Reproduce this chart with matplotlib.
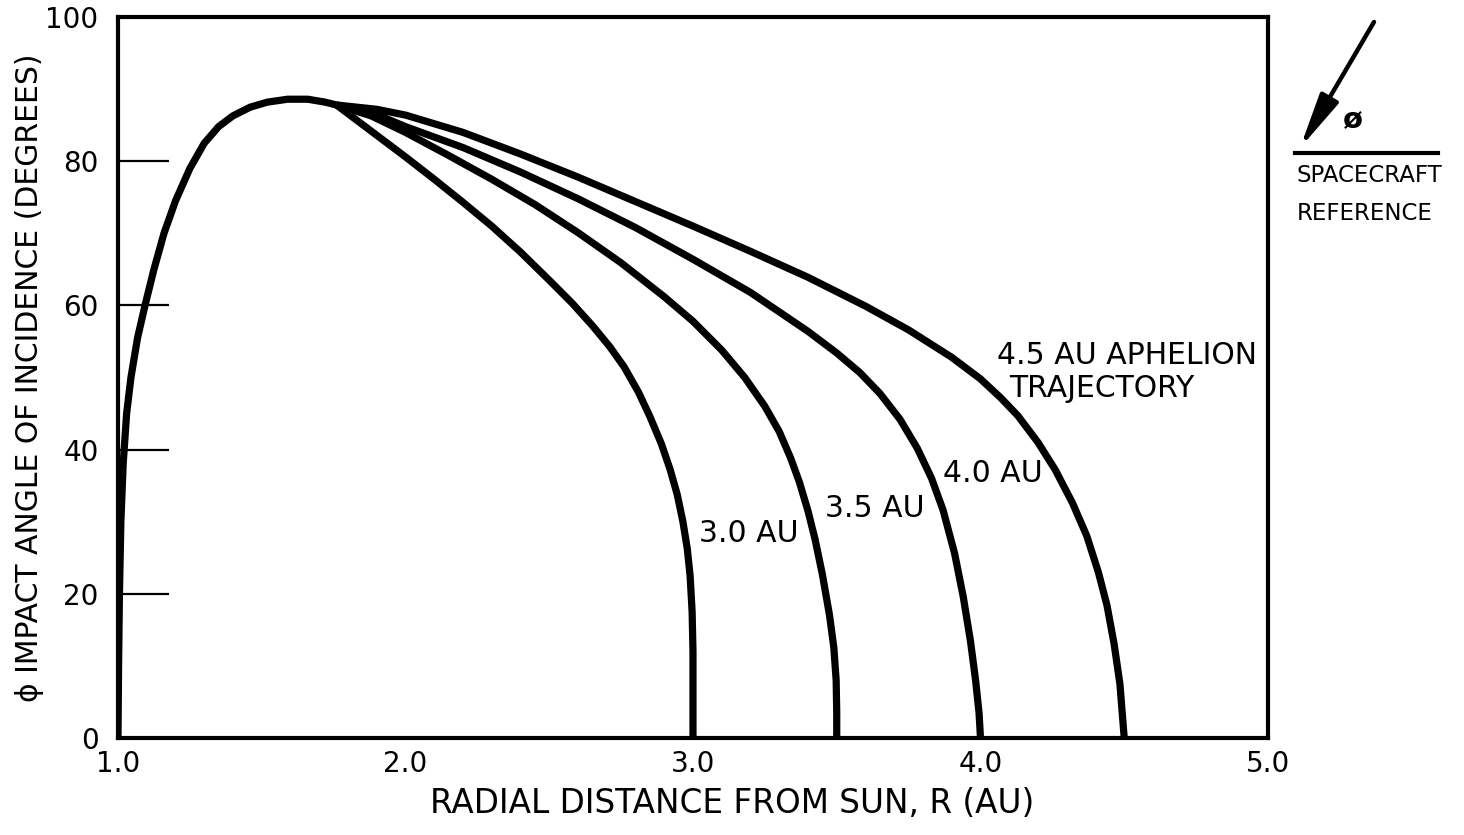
import matplotlib.pyplot as plt

# Inbound leg shared by every trajectory (R in AU, phi in degrees)
r_common = [1.000, 1.002, 1.005, 1.010, 1.018, 1.030, 1.045, 1.068, 1.094, 1.125,
            1.160, 1.200, 1.250, 1.300, 1.350, 1.400, 1.460, 1.520, 1.590, 1.660,
            1.720, 1.760]
phi_common = [0.0, 10.0, 20.0, 30.0, 38.0, 45.0, 50.0, 55.5, 60.0, 65.0,
              70.0, 74.5, 79.0, 82.5, 84.8, 86.3, 87.5, 88.2, 88.6, 88.6,
              88.2, 87.8]

# Outbound legs, one per aphelion distance
r_30 = [1.760, 1.820, 1.900, 2.000, 2.100, 2.200, 2.300, 2.400, 2.500, 2.580,
        2.650, 2.710, 2.760, 2.810, 2.850, 2.890, 2.920, 2.945, 2.965, 2.980,
        2.990, 2.997, 3.000, 3.000]
phi_30 = [87.8, 86.0, 83.6, 80.6, 77.5, 74.3, 71.0, 67.4, 63.5, 60.3,
          57.2, 54.3, 51.5, 48.0, 44.6, 40.8, 37.3, 33.8, 30.0, 26.3,
          22.5, 17.5, 12.0, 0.0]

r_35 = [1.760, 1.880, 2.000, 2.150, 2.300, 2.450, 2.600, 2.750, 2.900, 3.000,
        3.100, 3.180, 3.250, 3.300, 3.340, 3.370, 3.400, 3.425, 3.450, 3.475,
        3.490, 3.498, 3.500, 3.500]
phi_35 = [87.8, 86.3, 84.0, 80.8, 77.5, 74.0, 70.1, 65.9, 61.2, 57.8,
          53.8, 50.0, 46.0, 42.5, 38.8, 35.5, 31.5, 27.5, 22.7, 17.0,
          12.5, 8.0, 3.5, 0.0]

r_40 = [1.760, 1.880, 2.000, 2.200, 2.400, 2.600, 2.800, 3.000, 3.200, 3.400,
        3.500, 3.580, 3.650, 3.720, 3.780, 3.830, 3.870, 3.910, 3.940, 3.965,
        3.983, 3.995, 4.000]
phi_40 = [87.8, 86.8, 84.8, 81.9, 78.5, 74.8, 70.8, 66.4, 61.8, 56.4,
          53.4, 50.7, 47.8, 44.2, 40.2, 36.0, 31.6, 25.6, 19.6, 13.5,
          8.0, 3.5, 0.0]

r_45 = [1.760, 1.900, 2.000, 2.200, 2.400, 2.600, 2.800, 3.000, 3.200, 3.400,
        3.600, 3.750, 3.900, 4.000, 4.070, 4.130, 4.200, 4.260, 4.320, 4.370,
        4.410, 4.440, 4.465, 4.485, 4.500]
phi_45 = [87.8, 87.2, 86.4, 84.0, 81.0, 77.8, 74.4, 71.0, 67.5, 63.9,
          59.9, 56.6, 52.8, 49.8, 47.2, 44.7, 41.0, 37.2, 32.6, 28.0,
          23.0, 18.4, 13.0, 7.5, 0.0]

x_ticks = [1.0, 2.0, 3.0, 4.0, 5.0]
x_ticklabels = ["1.0", "2.0", "3.0", "4.0", "5.0"]
y_ticks = [0, 20, 40, 60, 80, 100]

plt.rcParams['font.family'] = ['DejaVu Sans']

fig = plt.figure(figsize=(14.64, 8.35), dpi=100)
ax = fig.add_axes([0.0806, 0.1162, 0.7855, 0.8634])

curve_kw = dict(color='black', lw=5.2, solid_joinstyle='round', solid_capstyle='butt')
ax.plot(r_common, phi_common, **curve_kw)
for r, phi in [(r_30, phi_30), (r_35, phi_35), (r_40, phi_40), (r_45, phi_45)]:
    ax.plot(r, phi, **curve_kw)

ax.set_xlim(1.0, 5.0)
ax.set_ylim(0, 100)
for s in ax.spines.values():
    s.set_linewidth(3.0)

# y ticks point inward and are long; x only gets a single mark at 2.0
ax.set_yticks(y_ticks)
ax.tick_params(axis='y', direction='in', length=37, width=1.6, pad=14, labelsize=20)
ax.set_xticks(x_ticks)
ax.set_xticklabels(x_ticklabels)
ax.tick_params(axis='x', which='major', length=0, pad=9, labelsize=20)
ax.set_xticks([2.0], minor=True)
ax.tick_params(axis='x', which='minor', direction='in', length=33, width=1.6)

ax.set_xlabel("RADIAL DISTANCE FROM SUN, R (AU)", fontsize=23.5)
ax.xaxis.set_label_coords(0.534, -0.068)
ax.set_ylabel("\u03d5 IMPACT ANGLE OF INCIDENCE (DEGREES)", fontsize=21.5, labelpad=1)

# curve labels
lab_kw = dict(fontsize=21.5, ha='left', va='center')
ax.text(3.02, 28.3, "3.0 AU", **lab_kw)
ax.text(3.46, 31.8, "3.5 AU", **lab_kw)
ax.text(3.87, 36.7, "4.0 AU", **lab_kw)
ax.text(4.057, 53.1, "4.5 AU APHELION", **lab_kw)
ax.text(4.10, 48.5, "TRAJECTORY", **lab_kw)

# reference sketch beside the plot, drawn in figure pixels
ov = fig.add_axes([0, 0, 1, 1])
ov.set_xlim(0, 1464)
ov.set_ylim(835, 0)
ov.axis('off')
ov.patch.set_alpha(0)
ov.annotate("", xy=(1300, 148), xytext=(1374, 22),
            arrowprops=dict(arrowstyle='-|>,head_length=1.5,head_width=0.28',
                            lw=3.2, color='black', shrinkA=0, shrinkB=0,
                            mutation_scale=22))
ov.plot([1295, 1438], [153, 153], color='black', lw=3.0)
ov.text(1353, 120, "\u00f8", fontsize=21, fontweight='bold', ha='center', va='center')
ov.text(1297, 176, "SPACECRAFT", fontsize=16.5, ha='left', va='center')
ov.text(1297, 213, "REFERENCE", fontsize=16.5, ha='left', va='center')

fig.savefig("out.png", dpi=100, facecolor='white')
